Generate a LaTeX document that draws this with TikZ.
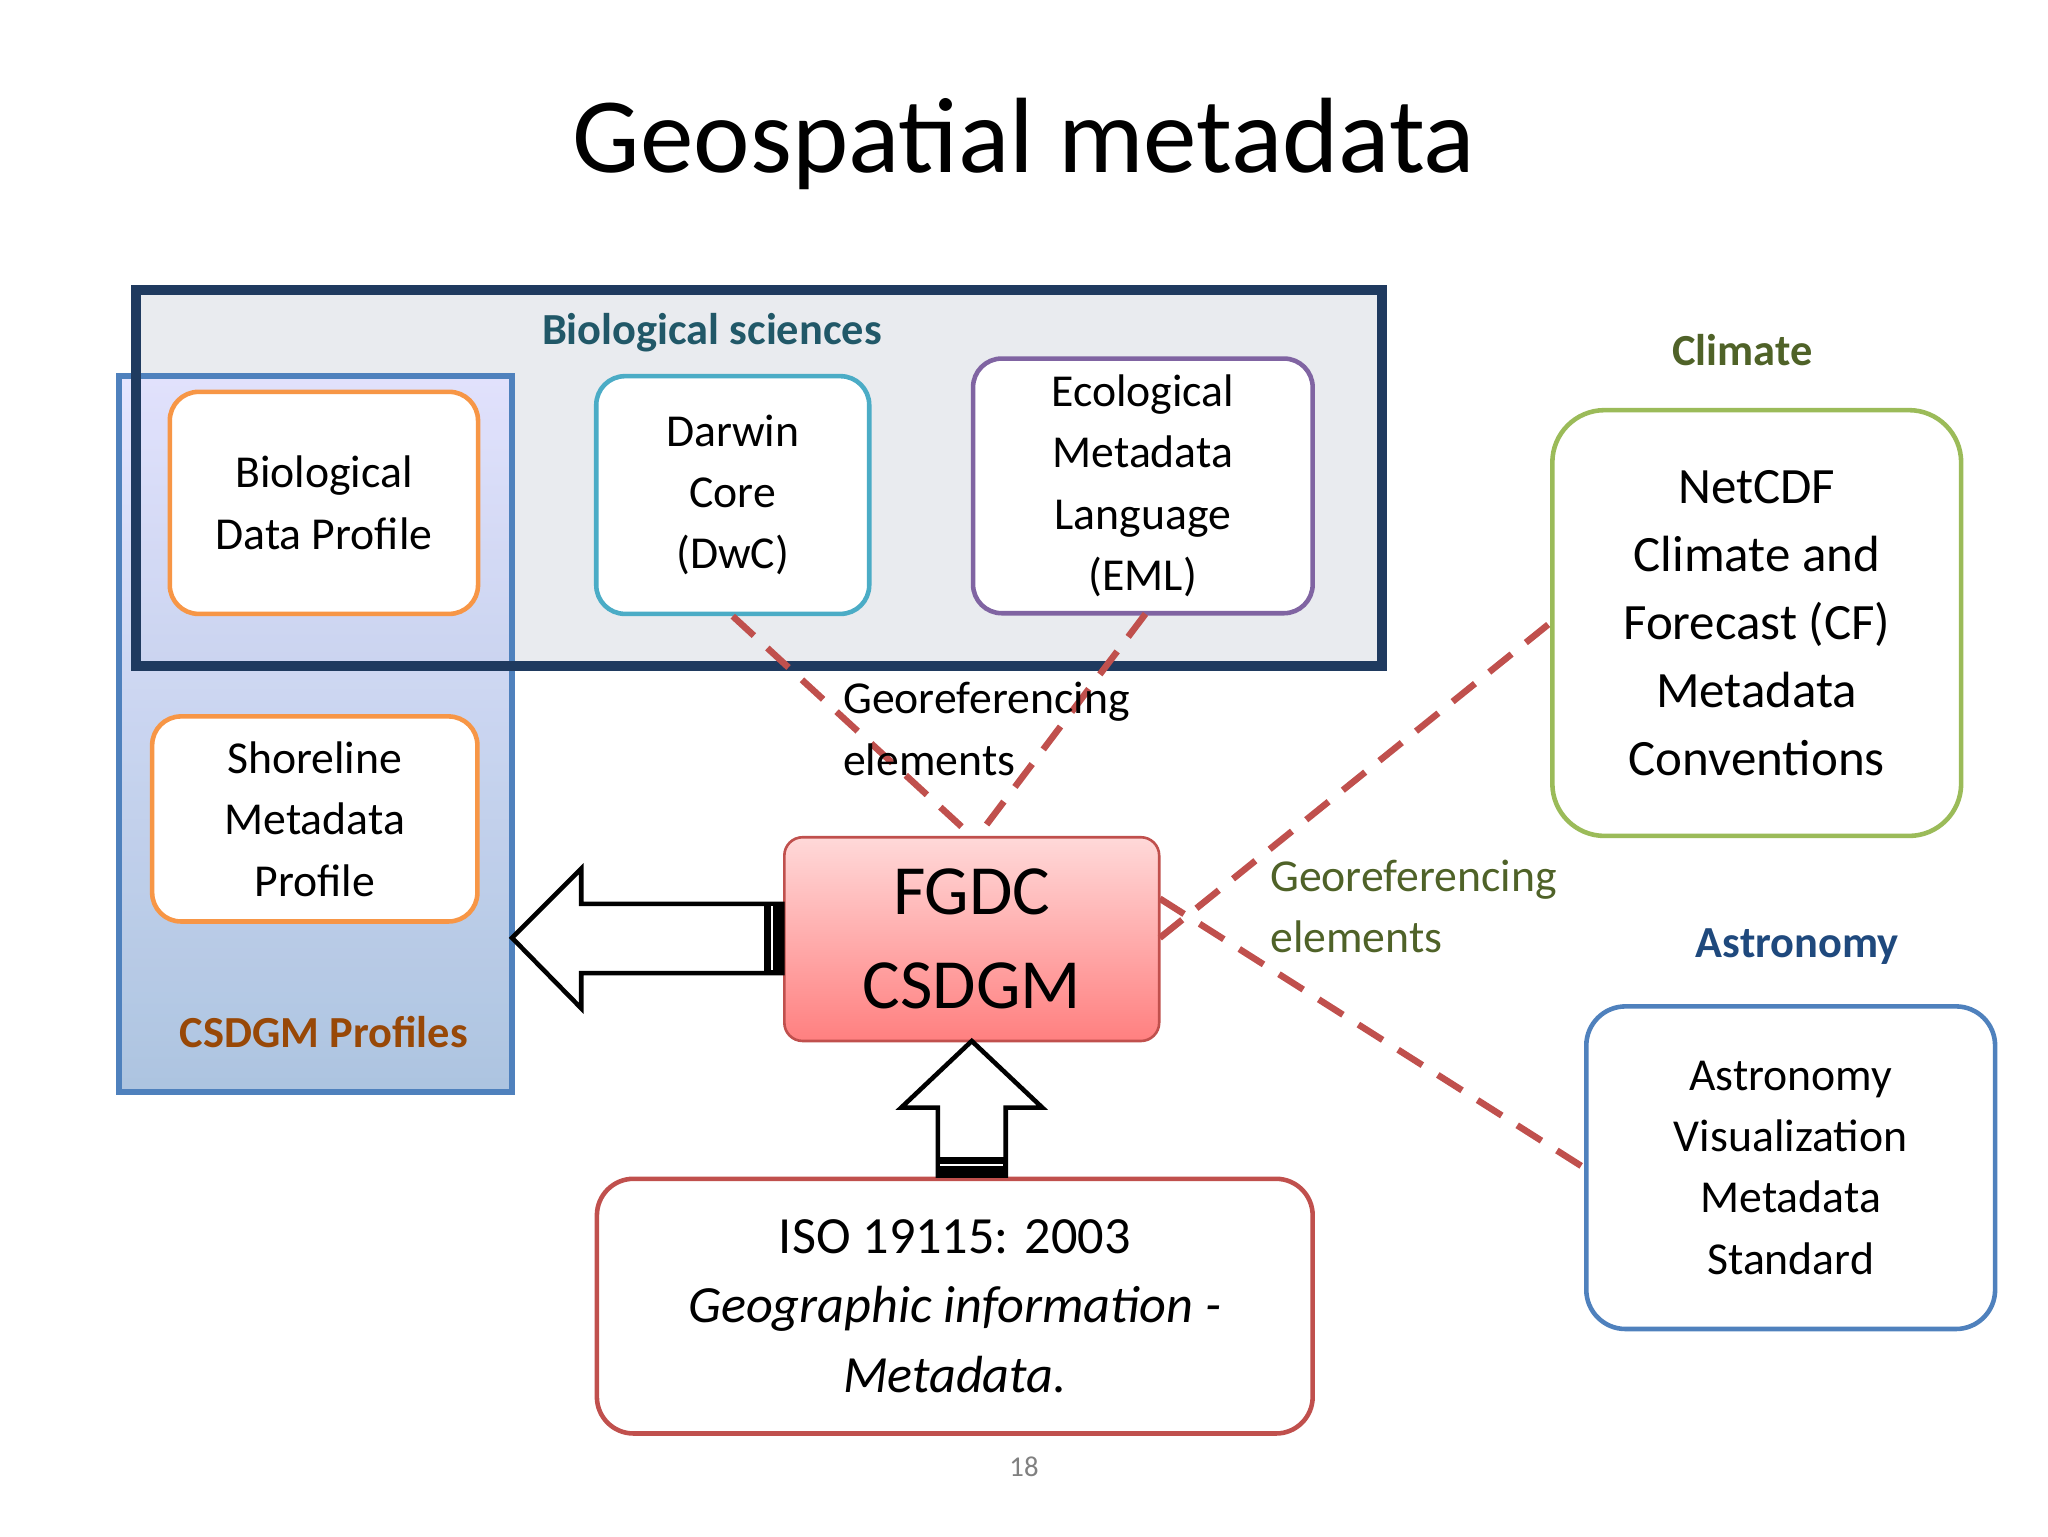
\documentclass[tikz,border=0pt]{standalone}
\usepackage{fontspec}
\setmainfont{Carlito}
\usetikzlibrary{positioning}
\definecolor{navy}{HTML}{1F3A5F}
\definecolor{teal2}{HTML}{215868}
\definecolor{bluebd}{HTML}{4F81BD}
\definecolor{orng}{HTML}{F79646}
\definecolor{tealbd}{HTML}{4BACC6}
\definecolor{purp}{HTML}{8064A2}
\definecolor{grn}{HTML}{9BBB59}
\definecolor{olive}{HTML}{4F6228}
\definecolor{redbd}{HTML}{C0504D}
\definecolor{brwn}{HTML}{984807}
\definecolor{dnavy}{HTML}{1F497D}
\tikzset{
  box/.style={draw, line width=3.5pt, rounded corners=22pt, fill=white, align=center, inner sep=0pt, font=\fontsize{35}{47}\selectfont},
  georef/.style={draw=redbd, line width=5pt, dash pattern=on 22pt off 14pt},
  hdr/.style={font=\fontsize{34}{40}\selectfont\bfseries},
  bigarrow/.style={draw=black, line width=3.5pt, fill=white, line join=miter}
}
\begin{document}
\begin{tikzpicture}[x=1pt,y=-1pt]
\useasboundingbox (0,0) rectangle (1568,1176);
\node (title) at (784,110) {\fontsize{82}{90}\selectfont Geospatial metadata};
% bio sciences fill
\fill[fill=navy!10] (104,222) rectangle (1058,510);
% CSDGM profiles
\shade[top color=blue!12!white, bottom color=bluebd!55!white, opacity=0.85] (91,288) rectangle (392,836);
\draw[bluebd, line width=5pt] (91,288) rectangle (392,836);
\draw[navy, line width=8pt] (104,222) rectangle (1058,510);
\node[hdr, text=teal2] (biolab) at (545,255) {Biological sciences};
\node[hdr, text=brwn] (csdgmlab) at (248,790) {CSDGM Profiles};
\node[box, draw=orng, minimum width=236pt, minimum height=170pt] (bdp) at (248,385) {Biological\\Data Profile};
\node[box, draw=orng, minimum width=249pt, minimum height=157pt] (smp) at (241,627) {Shoreline\\Metadata\\Profile};
\node[box, draw=tealbd, minimum width=209pt, minimum height=182pt] (dwc) at (561,379) {Darwin\\Core\\(DwC)};
\node[box, draw=purp, minimum width=260pt, minimum height=195pt] (eml) at (875,372) {Ecological\\Metadata\\Language\\(EML)};
\node[hdr, text=olive] (climlab) at (1334,268) {Climate};
\node[box, draw=grn, minimum width=313pt, minimum height=326pt, rounded corners=40pt, font=\fontsize{39}{52}\selectfont] (cf) at (1345,477) {NetCDF\\Climate and\\Forecast (CF)\\Metadata\\Conventions};
\node[hdr, text=dnavy] (astlab) at (1376,725) {Astronomy};
\node[box, draw=bluebd, minimum width=313pt, minimum height=247pt, rounded corners=30pt] (avm) at (1371,894) {Astronomy\\Visualization\\Metadata\\Standard};
\node[box, draw=redbd, line width=2pt, rounded corners=14pt, top color=red!15!white, bottom color=red!50!white, minimum width=287pt, minimum height=156pt, font=\fontsize{54}{72}\selectfont] (fgdc) at (744,719) {FGDC\\CSDGM};
\node[box, draw=redbd, minimum width=548pt, minimum height=195pt, rounded corners=28pt, font=\fontsize{40}{53}\selectfont] (iso) at (731,1000) {ISO 19115: 2003\\\textit{Geographic information -}\\\textit{Metadata.}};
\node[text=gray] (pg) at (784,1123) {\fontsize{22}{26}\selectfont 18};
% dashed connectors
\coordinate (fg1) at (745,641);
\coordinate (fg2) at (748,641);
\coordinate (fgr1) at (888,718);
\coordinate (fgr2) at (888,688);
\draw[georef] (dwc.south) ++(0,0) coordinate (d1) -- (fg1);
\draw[georef] (877,470) coordinate (e1) -- (fg2);
\draw[georef] (fgr1) -- (cf.west);
\draw[georef] (fgr2) -- (avm.west);
\node[anchor=north west, align=left, font=\fontsize{35}{47}\selectfont] (gl1) at (642,519) {Georeferencing\\elements};
\node[anchor=north west, align=left, text=olive, font=\fontsize{35}{47}\selectfont] (gl2) at (969,655) {Georeferencing\\elements};
% big hollow arrows
\draw[bigarrow] (599,692) -- (445,692) -- (445,665) -- (392,718) -- (445,772) -- (445,745) -- (599,745) -- cycle;
\fill[black] (585,692) rectangle (600,745);
\draw[bigarrow] (718,900) -- (718,848) -- (690,848) -- (744,797) -- (798,848) -- (770,848) -- (770,900) -- cycle;
\fill[black] (718,886) rectangle (770,901);
\draw[white, line width=1.5pt] (720,892) -- (768,892);
\draw[white, line width=1.5pt] (591,694) -- (591,743);
\end{tikzpicture}
\end{document}
